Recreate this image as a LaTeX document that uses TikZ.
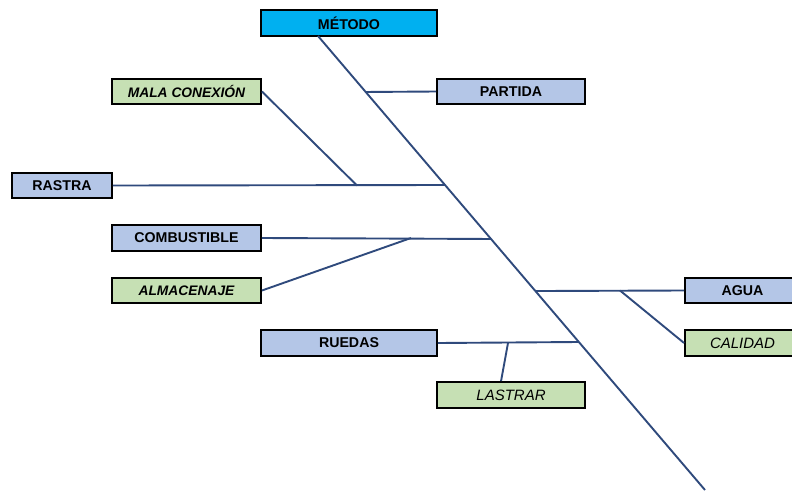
\documentclass[tikz,border=0pt]{standalone}
\usepackage{fontspec}
\setmainfont{Liberation Sans}
\usetikzlibrary{calc}
\definecolor{headc}{HTML}{00B0F0}
\definecolor{bluec}{HTML}{B4C6E7}
\definecolor{greenc}{HTML}{C6E0B4}
\definecolor{linec}{HTML}{2F4A7C}
\begin{document}
\begin{tikzpicture}[x=1pt,y=-1pt,
  box/.style={draw=black,line width=1.9pt,inner sep=0pt,minimum height=25pt,text=black},
  causebox/.style={box,fill=bluec,font=\fontsize{14.2}{16}\selectfont\bfseries},
  subbox/.style={box,fill=greenc,font=\fontsize{15}{17}\selectfont\itshape},
  subboxb/.style={box,fill=greenc,font=\fontsize{13.8}{16}\selectfont\bfseries\itshape},
  bone/.style={draw=linec,line width=1.9pt}]
\useasboundingbox (0,0) rectangle (792,490);
% nodes
\node[box,fill=headc,font=\fontsize{14.2}{16}\selectfont\bfseries,minimum width=176pt,minimum height=26pt] (metodo) at (349,23) {MÉTODO};
\node[causebox,minimum width=148pt] (partida) at (511,91.5) {PARTIDA};
\node[subboxb,minimum width=149pt] (mala) at (186.5,91.5) {MALA CONEXIÓN};
\node[causebox,minimum width=100pt] (rastra) at (62,185.5) {RASTRA};
\node[causebox,minimum width=149pt,minimum height=26pt] (comb) at (186.5,238) {COMBUSTIBLE};
\node[subboxb,minimum width=149pt] (alm) at (186.5,290.5) {ALMACENAJE};
\node[causebox,minimum width=176pt,minimum height=26pt] (ruedas) at (349,343) {RUEDAS};
\node[subbox,minimum width=148pt,minimum height=26pt] (lastrar) at (511,395) {LASTRAR};
\node[causebox,minimum width=149pt] (agua) at (759.5,290.5) {\hspace*{-34pt}AGUA};
\node[subbox,minimum width=149pt,minimum height=26pt] (calidad) at (759.5,343) {\hspace*{-34pt}CALIDAD};
% spine
\coordinate (top) at (318,36);
\coordinate (bot) at (705,490);
\draw[bone] (top) -- (bot);
\coordinate (sp) at ($(top)!0.1233!(bot)$);
\coordinate (sr) at ($(top)!0.3282!(bot)$);
\coordinate (sc) at ($(top)!0.4471!(bot)$);
\coordinate (sa) at ($(top)!0.5617!(bot)$);
\coordinate (su) at ($(top)!0.6740!(bot)$);
% main branches
\draw[bone] (sp) -- (partida.west);
\draw[bone] (rastra.east) -- (sr);
\draw[bone] (comb.east) -- (sc);
\draw[bone] (sa) -- (agua.west);
\draw[bone] (ruedas.east) -- (su);
% sub branches
\coordinate (jm) at (357,185.5);
\draw[bone] (mala.east) -- (jm);
\coordinate (ja) at (411,238);
\draw[bone] (alm.east) -- (ja);
\coordinate (jc) at (620,290.5);
\draw[bone] (jc) -- (calidad.west);
\coordinate (jl) at (508,343);
\coordinate (ll) at ($(lastrar.north west)+(65,0)$);
\draw[bone] (jl) -- (ll);
\end{tikzpicture}
\end{document}
